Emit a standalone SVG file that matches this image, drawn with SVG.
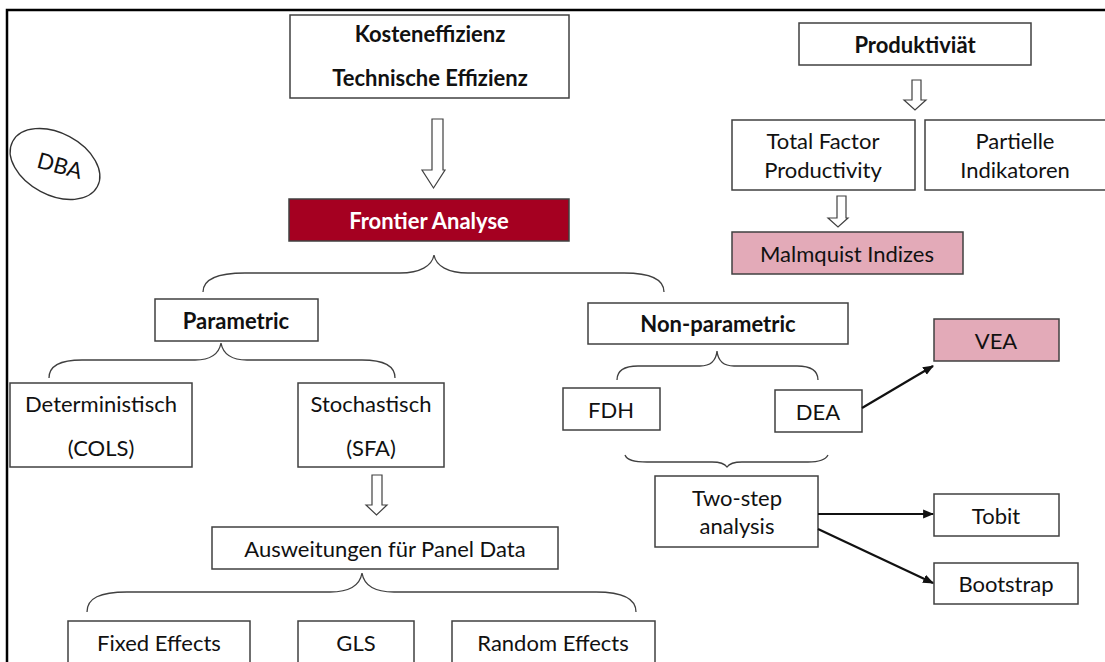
<svg xmlns="http://www.w3.org/2000/svg" width="1105" height="662" viewBox="0 0 1105 662">
<defs>
<style>
.box{fill:#fff;stroke:#404040;stroke-width:1.5}
.pink{fill:#E3AAB8;stroke:#404040;stroke-width:1.5}
.red{fill:#A50021;stroke:#404040;stroke-width:1.5}
.t{font-family:Lato,"Liberation Sans",sans-serif;font-size:22px;fill:#111;text-anchor:middle;dominant-baseline:central}
.b{font-weight:bold}
.w{fill:#fff}
.brace{fill:none;stroke:#404040;stroke-width:1.3}
.hollow{fill:#fff;stroke:#404040;stroke-width:1.2}
.line{fill:none;stroke:#111;stroke-width:2.2}
</style>
<marker id="ah" viewBox="0 0 10 10" refX="9" refY="5" markerWidth="5" markerHeight="5" orient="auto" markerUnits="strokeWidth">
<path d="M0,1 L10,5 L0,9 z" fill="#111"/>
</marker>
</defs>
<rect x="0" y="0" width="1105" height="662" fill="#fff"/>
<path d="M7,662 L7,10 L1105,10" fill="none" stroke="#000" stroke-width="2.5"/>

<g id="dba">
<ellipse cx="55" cy="164" rx="48" ry="31" transform="rotate(28 55 164)" fill="none" stroke="#333" stroke-width="1.3"/>
<text class="t" x="60" y="165" font-size="19" transform="rotate(15 60 165)">DBA</text>
</g>

<g id="kosten">
<rect class="box" x="290" y="15" width="279" height="83"/>
<text class="t b" x="430" y="33">Kosteneffizienz</text>
<text class="t b" x="430" y="77">Technische Effizienz</text>
</g>

<g id="frontier">
<rect class="red" x="289" y="199" width="280" height="42"/>
<text class="t b w" x="429" y="220">Frontier Analyse</text>
</g>

<g id="produktivitaet">
<rect class="box" x="799" y="23" width="232" height="42"/>
<text class="t b" x="915" y="44">Produktiviät</text>
</g>

<g id="tfp">
<rect class="box" x="732" y="120" width="183" height="70"/>
<text class="t" x="823" y="140">Total Factor</text>
<text class="t" x="823" y="169">Productivity</text>
</g>

<g id="partielle">
<rect class="box" x="925" y="120" width="190" height="70"/>
<text class="t" x="1015" y="140">Partielle</text>
<text class="t" x="1015" y="169">Indikatoren</text>
</g>

<g id="malmquist">
<rect class="pink" x="732" y="232" width="231" height="42"/>
<text class="t" x="847" y="253">Malmquist Indizes</text>
</g>

<g id="parametric">
<rect class="box" x="155" y="299" width="163" height="42"/>
<text class="t b" x="236" y="320">Parametric</text>
</g>

<g id="nonparametric">
<rect class="box" x="588" y="303" width="260" height="41"/>
<text class="t b" x="718" y="323">Non-parametric</text>
</g>

<g id="vea">
<rect class="pink" x="934" y="319" width="125" height="42"/>
<text class="t" x="996" y="340">VEA</text>
</g>

<g id="deterministisch">
<rect class="box" x="10" y="383" width="182" height="84"/>
<text class="t" x="101" y="403">Deterministisch</text>
<text class="t" x="101" y="447">(COLS)</text>
</g>

<g id="stochastisch">
<rect class="box" x="298" y="383" width="146" height="84"/>
<text class="t" x="371" y="403">Stochastisch</text>
<text class="t" x="371" y="447">(SFA)</text>
</g>

<g id="fdh">
<rect class="box" x="563" y="388" width="97" height="42"/>
<text class="t" x="611" y="409">FDH</text>
</g>

<g id="dea">
<rect class="box" x="775" y="390" width="87" height="42"/>
<text class="t" x="818" y="411">DEA</text>
</g>

<g id="twostep">
<rect class="box" x="655" y="476" width="163" height="71"/>
<text class="t" x="737" y="497">Two-step</text>
<text class="t" x="737" y="525">analysis</text>
</g>

<g id="tobit">
<rect class="box" x="934" y="494" width="125" height="42"/>
<text class="t" x="996" y="515">Tobit</text>
</g>

<g id="bootstrap">
<rect class="box" x="934" y="563" width="144" height="41"/>
<text class="t" x="1006" y="583">Bootstrap</text>
</g>

<g id="ausweitungen">
<rect class="box" x="212" y="527" width="346" height="42"/>
<text class="t" x="385" y="548">Ausweitungen für Panel Data</text>
</g>

<g id="fixed">
<rect class="box" x="68" y="621" width="182" height="50"/>
<text class="t" x="159" y="642">Fixed Effects</text>
</g>

<g id="gls">
<rect class="box" x="298" y="621" width="116" height="50"/>
<text class="t" x="356" y="642">GLS</text>
</g>

<g id="random">
<rect class="box" x="452" y="621" width="203" height="50"/>
<text class="t" x="553" y="642">Random Effects</text>
</g>

<g id="connectors">
<polygon class="hollow" points="432,119 443,119 443,170 445,170 433.5,188 422,170 432,170"/>
<polygon class="hollow" points="912,80 921,80 921,100 926,100 915,110 904,100 912,100"/>
<polygon class="hollow" points="837,196 846,196 846,218 848,218 838,227 828,218 837,218"/>
<polygon class="hollow" points="372,475 382,475 382,505 387,505 376.5,515 366,505 372,505"/>
<path class="brace" d="M203,292 C203,279 218,273 245,273 L400,273 C420,273 432,266 434,255 C436,266 448,273 468,273 L624,273 C650,273 664,279 664,292"/>
<path class="brace" d="M49,378 C49,366 60,360 82,360 L195,360 C210,360 219,354 221,343 C223,354 232,360 247,360 L362,360 C385,360 395,366 395,378"/>
<path class="brace" d="M617,380 C617,371 623,366 638,366 L700,366 C710,366 716,361 717,351 C718,361 724,366 734,366 L797,366 C812,366 818,371 818,380"/>
<path class="brace" d="M625,455 C627,460 633,462 647,462 L712,462 C720,462 725,464 727,467 C729,464 734,462 742,462 L808,462 C820,462 826,459 828,455"/>
<path class="brace" d="M87,612 C87,598 100,592 127,592 L330,592 C350,592 360,585 362,573 C364,585 374,592 394,592 L596,592 C622,592 636,598 636,612"/>
<line class="line" x1="862" y1="408" x2="933" y2="366" marker-end="url(#ah)"/>
<line class="line" x1="818" y1="514" x2="933" y2="514" marker-end="url(#ah)"/>
<line class="line" x1="818" y1="529" x2="933" y2="583" marker-end="url(#ah)"/>
</g>
</svg>
